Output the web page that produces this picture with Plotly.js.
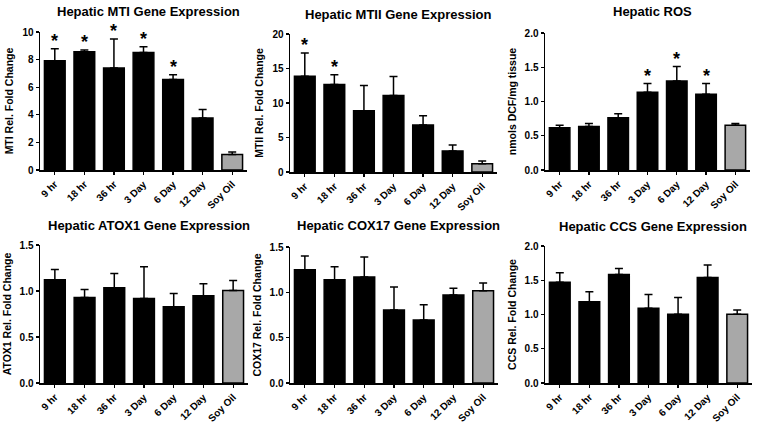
<!DOCTYPE html>
<html>
<head>
<meta charset="utf-8">
<script src="https://cdn.plot.ly/plotly-3.0.1.min.js"></script>
<style>html,body{margin:0;padding:0;background:#fff;}#chart{width:764px;height:424px;}</style>
</head>
<body>
<div id="chart"></div>
<script>
const categories = ["9 hr", "18 hr", "36 hr", "3 Day", "6 Day", "12 Day", "Soy Oil"];

const titles = ["Hepatic MTI Gene Expression", "Hepatic MTII Gene Expression", "Hepatic ROS",
  "Hepatic ATOX1 Gene Expression", "Hepatic COX17 Gene Expression", "Hepatic CCS Gene Expression"];
const yTitles = ["MTI Rel. Fold Change", "MTII Rel. Fold Change", "nmols DCF/mg tissue",
  "ATOX1 Rel. Fold Change", "COX17 Rel. Fold Change", "CCS Rel. Fold Change"];

const mtiMean = [7.91, 8.56, 7.40, 8.52, 6.55, 3.77, 1.12];
const mtiErr  = [0.87, 0.13, 2.09, 0.41, 0.36, 0.61, 0.19];
const mtiSig  = [1, 1, 1, 1, 1, 0, 0];

const mtiiMean = [13.88, 12.67, 8.88, 11.07, 6.80, 3.06, 1.21];
const mtiiErr  = [3.35, 1.41, 3.64, 2.76, 1.36, 0.87, 0.39];
const mtiiSig  = [1, 1, 0, 0, 0, 0, 0];

const rosMean = [0.617, 0.636, 0.762, 1.136, 1.30, 1.107, 0.655];
const rosErr  = [0.038, 0.044, 0.058, 0.126, 0.21, 0.155, 0.025];
const rosSig  = [0, 0, 0, 1, 1, 1, 0];

const atoxMean = [1.122, 0.930, 1.035, 0.919, 0.828, 0.948, 1.006];
const atoxErr  = [0.113, 0.087, 0.156, 0.345, 0.145, 0.131, 0.109];
const atoxSig  = [0, 0, 0, 0, 0, 0, 0];

const coxMean = [1.25, 1.14, 1.169, 0.805, 0.695, 0.971, 1.018];
const coxErr  = [0.15, 0.143, 0.221, 0.254, 0.169, 0.073, 0.085];
const coxSig  = [0, 0, 0, 0, 0, 0, 0];

const ccsMean = [1.472, 1.186, 1.584, 1.090, 1.002, 1.540, 1.002];
const ccsErr  = [0.136, 0.146, 0.087, 0.203, 0.247, 0.184, 0.063];
const ccsSig  = [0, 0, 0, 0, 0, 0, 0];

const yMax   = [10, 20, 2.0, 1.5, 1.5, 2.0];
const yDtick = [2, 5, 0.5, 0.5, 0.5, 0.5];
const yFmt   = ["d", "d", ".1f", ".1f", ".1f", ".1f"];

const means = [mtiMean, mtiiMean, rosMean, atoxMean, coxMean, ccsMean];
const errs  = [mtiErr, mtiiErr, rosErr, atoxErr, coxErr, ccsErr];
const sigs  = [mtiSig, mtiiSig, rosSig, atoxSig, coxSig, ccsSig];

// panel pixel boxes (left, right, top, bottom)
const W = 764, H = 424;
const boxes = [
  [40, 247, 32, 170], [290, 497, 34, 172], [545, 750, 33, 170],
  [40, 248, 245, 383], [290, 498, 247, 383], [545, 752, 246, 383]
];
const titleY = [12, 14, 12, 225, 225, 226];

const FONT = "Liberation Sans, Arial, sans-serif";
const traces = [];
const layout = {
  width: W, height: H, margin: {l: 0, r: 0, t: 0, b: 0},
  paper_bgcolor: "#fff", plot_bgcolor: "#fff", showlegend: false,
  font: {family: FONT, color: "#000"},
  annotations: []
};

for (let i = 0; i < 6; i++) {
  const n = i + 1;
  const xa = "x" + (n === 1 ? "" : n), ya = "y" + (n === 1 ? "" : n);
  const b = boxes[i];
  const colors = categories.map((c, k) => k === categories.length - 1 ? "#a8a8a8" : "#000");
  traces.push({
    type: "bar", x: categories, y: means[i], xaxis: xa, yaxis: ya, width: 0.7,
    marker: {color: colors, line: {color: "#000", width: 1.5}},
    error_y: {type: "data", symmetric: false, array: errs[i], arrayminus: means[i].map(() => 0),
      color: "#000", thickness: 1.5, width: 4},
    hoverinfo: "none"
  });
  const axX = {
    domain: [b[0] / W, b[1] / W], anchor: ya, type: "category", range: [-0.5, 6.5],
    showline: true, linecolor: "#000", linewidth: 1.5, ticks: "outside", ticklen: 3, tickwidth: 1.2,
    tickcolor: "#000", tickangle: -45, tickfont: {family: FONT, size: 10, color: "#000", weight: "bold"},
    showgrid: false, zeroline: false, fixedrange: true
  };
  const axY = {
    domain: [1 - b[3] / H, 1 - b[2] / H], anchor: xa, range: [0, yMax[i]], dtick: yDtick[i], tick0: 0,
    tickformat: yFmt[i], showline: true, linecolor: "#000", linewidth: 1.5, ticks: "outside", ticklen: 3,
    tickwidth: 1.2, tickcolor: "#000", tickfont: {family: FONT, size: 10, color: "#000", weight: "bold"},
    showgrid: false, zeroline: false, fixedrange: true,
    title: {text: yTitles[i], font: {family: FONT, size: 10.5, color: "#000", weight: "bold"}, standoff: 6}
  };
  layout["xaxis" + (n === 1 ? "" : n)] = axX;
  layout["yaxis" + (n === 1 ? "" : n)] = axY;
  // panel title
  layout.annotations.push({
    text: titles[i], xref: "paper", yref: "paper", x: (b[0] + b[1]) / 2 / W + 0.006,
    y: 1 - titleY[i] / H, yanchor: "middle", xanchor: "center", showarrow: false,
    font: {family: FONT, size: 13, color: "#000", weight: "bold"}
  });
  // significance asterisks
  for (let k = 0; k < categories.length; k++) {
    if (sigs[i][k]) {
      layout.annotations.push({
        text: "*", xref: xa, yref: ya, x: categories[k], y: means[i][k] + errs[i][k],
        yanchor: "bottom", xanchor: "center", showarrow: false, yshift: -4,
        font: {family: FONT, size: 18, color: "#000", weight: "bold"}
      });
    }
  }
}

Plotly.newPlot("chart", traces, layout, {staticPlot: true, displayModeBar: false});
</script>
</body>
</html>
